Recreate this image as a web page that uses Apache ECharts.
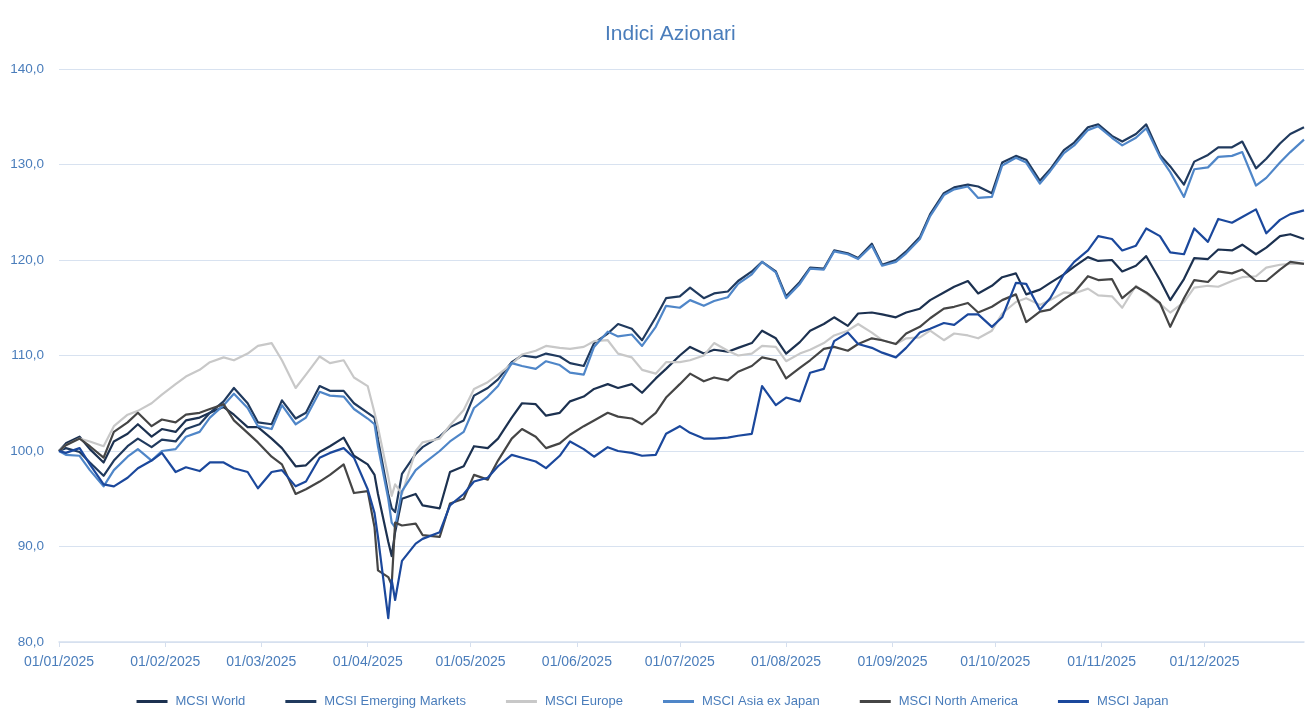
<!DOCTYPE html>
<html>
<head>
<meta charset="utf-8">
<title>Indici Azionari</title>
<script src="https://cdn.jsdelivr.net/npm/echarts@6/dist/echarts.min.js"></script>
<style>
  html, body { margin: 0; padding: 0; background: #fff; }
  #main { width: 1305px; height: 713px; }
</style>
</head>
<body>
<div id="main"></div>
<script>
// date di rilevazione (anno 2025, mm-gg)
var dates = [
    '01-01', '01-03', '01-07', '01-10', '01-14', '01-17', '01-21', '01-24', '01-28', '01-31',
    '02-04', '02-07', '02-11', '02-14', '02-18', '02-21', '02-25', '02-28',
    '03-04', '03-07', '03-11', '03-14', '03-18', '03-21', '03-25', '03-28',
    '04-01', '04-03', '04-04', '04-07', '04-08', '04-09', '04-11', '04-15', '04-17', '04-22', '04-25', '04-29',
    '05-02', '05-06', '05-09', '05-13', '05-16', '05-20', '05-23', '05-27', '05-30',
    '06-03', '06-06', '06-10', '06-13', '06-17', '06-20', '06-24', '06-27',
    '07-01', '07-04', '07-08', '07-11', '07-15', '07-18', '07-22', '07-25', '07-29',
    '08-01', '08-05', '08-08', '08-12', '08-15', '08-19', '08-22', '08-26', '08-29',
    '09-02', '09-05', '09-09', '09-12', '09-16', '09-19', '09-23', '09-26', '09-30',
    '10-03', '10-07', '10-10', '10-14', '10-17', '10-21', '10-24', '10-28', '10-31',
    '11-04', '11-07', '11-11', '11-14', '11-18', '11-21', '11-25', '11-28',
    '12-02', '12-05', '12-09', '12-12', '12-16', '12-19', '12-23', '12-26', '12-30'
];

var world = [
    100.0, 100.8, 101.5, 100.2, 98.8, 101.0, 101.8, 102.8, 101.5, 102.3,
    102.0, 103.2, 103.5, 104.0, 104.6, 103.8, 102.5, 102.5,
    101.3, 100.3, 98.4, 98.5, 99.9, 100.5, 101.4, 99.5,
    98.6, 97.5, 95.5, 90.5, 89.0, 91.5, 95.0, 95.5, 94.3, 94.0, 97.8, 98.4,
    100.5, 100.3, 101.3, 103.5, 105.0, 104.9, 103.7, 104.0, 105.2,
    105.7, 106.5, 107.0, 106.6, 107.0, 106.1, 107.6, 108.6,
    110.0, 110.9, 110.2, 110.6, 110.4, 110.8, 111.3, 112.6, 111.8,
    110.2, 111.4, 112.6, 113.3, 114.0, 113.1, 114.4, 114.5, 114.3,
    114.0, 114.5, 114.9, 115.8, 116.6, 117.2, 117.8, 116.5, 117.3,
    118.2, 118.6, 116.4, 116.9, 117.6, 118.5, 119.3, 120.3, 119.9,
    120.0, 118.8, 119.4, 120.4, 117.9, 115.8, 118.0, 120.2,
    120.1, 121.1, 121.0, 121.6, 120.6, 121.3, 122.5, 122.7, 122.2
];

var emerging = [
    100.0, 100.3, 99.9, 98.8, 97.4, 99.0, 100.5, 101.3, 100.4, 101.2,
    101.0, 102.3, 102.8, 104.0, 105.2, 106.6, 105.0, 103.0,
    102.8, 105.3, 103.4, 104.0, 106.8, 106.3, 106.3, 105.0,
    104.0, 103.5, 101.2, 95.5, 94.0, 93.6, 97.6, 99.7, 100.4, 101.5, 102.5, 103.2,
    105.8, 106.6, 107.5, 109.3, 110.0, 109.8, 110.2, 109.9, 109.2,
    108.9, 111.3, 112.3, 113.3, 112.8, 111.6, 114.0, 116.0,
    116.2, 117.1, 116.0, 116.5, 116.7, 117.8, 118.8, 119.8, 118.8,
    116.2, 117.7, 119.2, 119.1, 121.0, 120.7, 120.2, 121.7, 119.5,
    120.0, 120.9, 122.4, 124.8, 127.0, 127.6, 127.9, 127.7, 127.0,
    130.2, 130.9, 130.5, 128.3, 129.5, 131.5, 132.3, 133.9, 134.2,
    133.0, 132.4, 133.2, 134.2, 131.0, 129.8, 127.9, 130.3,
    131.0, 131.8, 131.8, 132.4, 129.6, 130.6, 132.2, 133.2, 133.9
];

var europe = [
    100.0, 100.6, 101.3, 101.0, 100.5, 102.6, 103.8, 104.2, 105.0, 105.9,
    107.0, 107.8, 108.5, 109.3, 109.8, 109.5, 110.2, 111.0,
    111.3, 109.5, 106.6, 108.0, 109.9, 109.2, 109.5, 107.7,
    106.8, 104.0, 102.5, 97.3, 95.3, 96.5, 95.5, 100.0, 100.9, 101.3, 102.7, 104.3,
    106.5, 107.2, 108.0, 109.1, 110.1, 110.5, 111.0, 110.8, 110.7,
    110.9, 111.5, 111.6, 110.2, 109.8, 108.5, 108.1, 109.3,
    109.3, 109.5, 110.0, 111.3, 110.5, 110.0, 110.2, 111.0, 110.9,
    109.4, 110.2, 110.6, 111.3, 112.1, 112.6, 113.3, 112.4, 111.6,
    111.2, 111.8, 111.9, 112.6, 111.6, 112.3, 112.1, 111.8, 112.6,
    114.4, 115.6, 116.0, 115.3, 115.8, 116.6, 116.5, 117.0, 116.3,
    116.2, 115.0, 117.3, 116.5, 115.4, 114.5, 115.6, 117.1,
    117.3, 117.2, 117.8, 118.2, 118.3, 119.2, 119.5, 119.6, 119.6
];

var asiaExJapan = [
    100.0, 99.6, 99.5, 98.0, 96.3, 98.0, 99.4, 100.2, 99.0, 100.0,
    100.2, 101.5, 102.0, 103.5, 104.8, 106.0, 104.5, 102.6,
    102.3, 104.8, 102.8, 103.5, 106.2, 105.8, 105.7, 104.4,
    103.4, 102.8, 100.5, 95.0, 92.5, 92.0, 95.8, 98.0, 98.6, 100.0, 101.0, 102.0,
    104.5, 105.7, 106.8, 109.2, 108.9, 108.6, 109.4, 109.0, 108.2,
    108.0, 110.9, 112.5, 112.0, 112.2, 111.0, 113.0, 115.2,
    115.0, 115.8, 115.2, 115.7, 116.1, 117.5, 118.5, 119.8, 118.7,
    116.0, 117.5, 119.1, 119.0, 120.9, 120.6, 120.1, 121.5, 119.4,
    119.8, 120.7, 122.2, 124.6, 126.8, 127.4, 127.7, 126.5, 126.6,
    129.9, 130.7, 130.2, 128.0, 129.3, 131.2, 132.0, 133.6, 134.0,
    132.8, 132.0, 132.8, 133.8, 130.8, 129.2, 126.6, 129.5,
    129.7, 130.8, 130.9, 131.3, 127.8, 128.6, 130.2, 131.3, 132.6
];

var northAmerica = [
    100.0, 100.6, 101.3, 100.5, 99.3, 102.0, 103.0, 104.0, 102.6, 103.3,
    103.0, 103.8, 104.0, 104.4, 104.9, 103.2, 101.9, 100.9,
    99.4, 98.6, 95.5, 96.0, 96.8, 97.5, 98.6, 95.6,
    95.8, 92.0, 87.5, 86.8, 86.0, 92.5, 92.2, 92.4, 91.2, 91.0, 94.5, 95.0,
    97.5, 97.0, 99.0, 101.3, 102.3, 101.5, 100.3, 100.8, 101.7,
    102.6, 103.2, 104.0, 103.6, 103.4, 102.8, 104.0, 105.6,
    107.0, 108.1, 107.3, 107.7, 107.4, 108.3, 108.9, 109.8, 109.5,
    107.6, 108.7, 109.5, 110.7, 110.9, 110.5, 111.2, 111.8, 111.6,
    111.2, 112.3, 113.0, 113.9, 114.9, 115.1, 115.5, 114.5, 115.1,
    115.8, 116.4, 113.5, 114.6, 114.8, 115.9, 116.6, 118.3, 117.9,
    118.0, 116.0, 117.2, 116.6, 115.5, 113.0, 116.0, 117.9,
    117.7, 118.8, 118.6, 119.0, 117.8, 117.8, 119.0, 119.8, 119.6
];

var japan = [
    100.0, 99.8, 100.3, 98.6, 96.5, 96.3, 97.2, 98.2, 99.0, 99.8,
    97.8, 98.3, 97.9, 98.8, 98.8, 98.2, 97.8, 96.1,
    97.8, 98.0, 96.3, 96.8, 99.3, 99.8, 100.3, 99.3,
    96.0, 93.5, 91.0, 82.5, 86.5, 84.4, 88.5, 90.3, 90.8, 91.5, 94.3, 95.5,
    96.8, 97.2, 98.4, 99.6, 99.3, 98.9, 98.2, 99.5, 101.0,
    100.2, 99.4, 100.4, 100.0, 99.8, 99.5, 99.6, 101.8,
    102.6, 101.9, 101.3, 101.3, 101.4, 101.6, 101.8, 106.8, 104.8,
    105.6, 105.2, 108.2, 108.6, 111.5, 112.4, 111.2, 110.8, 110.3,
    109.8, 110.8, 112.4, 112.8, 113.4, 113.2, 114.3, 114.3, 113.0,
    114.0, 117.6, 117.5, 114.8, 116.0, 118.5, 119.8, 121.0, 122.5,
    122.2, 121.0, 121.5, 123.3, 122.5, 120.8, 120.6, 123.3,
    121.9, 124.3, 123.9, 124.5, 125.3, 122.8, 124.2, 124.8, 125.2
];

var yTicks = [80, 90, 100, 110, 120, 130, 140];

var names = ['MCSI World', 'MCSI Emerging Markets', 'MSCI Europe', 'MSCI Asia ex Japan', 'MSCI North America', 'MSCI Japan'];
var values = [world, emerging, europe, asiaExJapan, northAmerica, japan];
var colors = ['#1c3150', '#203a5e', '#c8c8c8', '#4f86c8', '#454545', '#1b489c'];

var font = "'Liberation Sans', Arial, sans-serif";
var blu = '#4a7dbb';

function pad(n) { return n < 10 ? '0' + n : '' + n; }

var myChart = echarts.init(document.getElementById('main'));

var option = {
    animation: false,
    color: colors,
    title: {
        text: 'Indici Azionari',
        left: 600,
        top: 19,
        textStyle: { color: blu, fontSize: 21, fontWeight: 'normal', fontFamily: font }
    },
    legend: {
        top: 695,
        left: 'center',
        padding: 0,
        icon: 'rect',
        itemWidth: 31,
        itemHeight: 3,
        itemGap: 40,
        textStyle: { color: blu, fontSize: 13, fontFamily: font, padding: [0, 0, 0, 3] },
        data: names
    },
    grid: { left: 59, right: 1, top: 69, bottom: 71 },
    xAxis: {
        type: 'time',
        min: '2025-01-01',
        max: '2025-12-30',
        minInterval: 28 * 86400000,
        maxInterval: 31 * 86400000,
        axisLine: { lineStyle: { color: '#d5dfee', width: 1.5 } },
        axisTick: { show: true, length: 5, lineStyle: { color: '#d5dfee' } },
        splitLine: { show: false },
        axisLabel: {
            color: blu,
            fontSize: 14,
            fontFamily: font,
            margin: 13,
            showMinLabel: true,
            hideOverlap: false,
            formatter: function (v) {
                var d = new Date(v);
                return pad(d.getDate()) + '/' + pad(d.getMonth() + 1) + '/' + d.getFullYear();
            }
        }
    },
    yAxis: {
        type: 'value',
        min: yTicks[0],
        max: yTicks[yTicks.length - 1],
        interval: 10,
        axisLine: { show: false },
        axisTick: { show: false },
        splitLine: { lineStyle: { color: '#d8e2f0', width: 1.2 } },
        axisLabel: {
            color: blu,
            fontSize: 13.5,
            fontFamily: font,
            margin: 15,
            formatter: function (v) { return v.toFixed(1).replace('.', ','); }
        }
    },
    series: names.map(function (n, k) {
        return {
            name: n,
            type: 'line',
            showSymbol: false,
            symbol: 'none',
            lineStyle: { width: 2.2, color: colors[k], join: 'round' },
            itemStyle: { color: colors[k] },
            data: dates.map(function (d, i) { return ['2025-' + d, values[k][i]]; })
        };
    })
};

myChart.setOption(option);
</script>
</body>
</html>
